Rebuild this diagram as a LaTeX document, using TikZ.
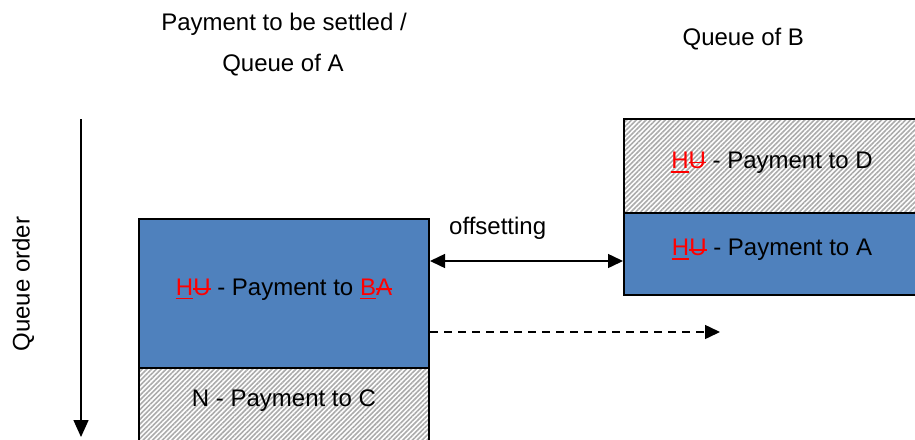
\documentclass[tikz,border=0pt]{standalone}
\usepackage{fontspec}
\setmainfont{Liberation Sans}
\usetikzlibrary{arrows.meta,patterns.meta}
\definecolor{qblue}{HTML}{4F81BD}
\newcommand{\insl}[1]{\setbox0\hbox{#1}\rlap{\rule[-4.2pt]{\wd0}{1.6pt}}\box0}
\newcommand{\dell}[1]{\setbox0\hbox{#1}\rlap{\rule[5pt]{\wd0}{1.6pt}}\box0}
\newcommand{\chg}[2]{\textcolor{red}{\insl{#1}\dell{#2}}}
\begin{document}
\begin{tikzpicture}[x=1pt,y=-1pt,font=\fontsize{24}{28}\selectfont,
  bluebox/.style={draw=black,line width=2pt,fill=qblue,inner sep=0pt},
  hatchbox/.style={draw=black,line width=2pt,inner sep=0pt,
    pattern={Lines[angle=45,distance=3.4pt,line width=1.6pt]},pattern color=black!33},
  lbl/.style={inner sep=0pt,anchor=base},
  conn/.style={line width=1.5pt},
  tip/.style={-{Triangle[length=15pt,width=14pt]}}]
\useasboundingbox (0,0) rectangle (915,439);
% titles
\node[lbl] (t1) at (284,30.5) {Payment to be settled /};
\node[lbl] (t2) at (283,71.5) {Queue of A};
\node[lbl] (t3) at (743.3,45) {Queue of B};
% queue order
\node[lbl,rotate=90] (qo) at (29.5,284) {Queue order};
\coordinate (qtop) at (81,119);
\coordinate (qbot) at (81,437);
\draw[conn,-{Triangle[length=17pt,width=15pt]}] (qtop) -- (qbot);
% queue A
\node[hatchbox,minimum width=290pt,minimum height=92pt] (Ahatch) at (284,414) {};
\node[lbl] (Ntext) at (284,406.5) {N - Payment to C};
\node[bluebox,minimum width=290pt,minimum height=149pt] (Ablue) at (284,293.5) {};
\node[lbl] (Atext) at (284,295) {\chg{H}{U} - Payment to \chg{B}{A}};
% queue B
\node[hatchbox,minimum width=296pt,minimum height=94pt] (Bhatch) at (772,166) {};
\node[lbl] (Dtext) at (772,168.3) {\chg{H}{U} - Payment to D};
\node[bluebox,minimum width=296pt,minimum height=82pt] (Bblue) at (772,254) {};
\node[lbl] (Btext) at (772,255.5) {\chg{H}{U} - Payment to A};
% offsetting
\coordinate (offy) at (500,261);
\draw[conn,{Triangle[length=15pt,width=14pt]}-{Triangle[length=15pt,width=14pt]}]
  (Ablue.east |- offy) -- (Bblue.west |- offy);
\node[lbl] (off) at (497.7,234) {offsetting};
% dashed
\coordinate (dashend) at (720,332);
\draw[conn,dash pattern=on 8pt off 6pt,tip] (Ablue.east |- dashend) -- (dashend);
\end{tikzpicture}
\end{document}
